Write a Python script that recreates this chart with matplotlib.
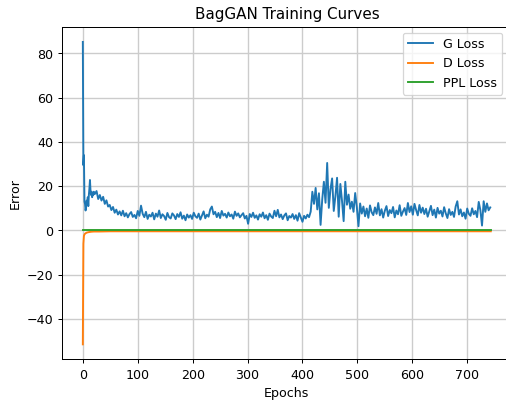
import numpy as np
import matplotlib
matplotlib.use("Agg")
import matplotlib.pyplot as plt

# G loss: per-epoch for epochs 0..20, then every 3 epochs from 22 to 742
g_epochs = np.concatenate([np.arange(0, 21), np.arange(22, 743, 3)])
g_loss = [
    85.2, 29.5, 34.0, 13.0, 12.0, 9.0, 10.5, 13.5, 12.0, 15.0,
    11.0, 16.0, 19.0, 22.8, 18.0, 16.0, 17.5, 15.0, 17.0, 16.0,
    17.5,
    16.5, 17.8, 14.2, 16.0, 13.5, 15.2, 12.0, 13.6, 10.8, 11.5,
    9.2, 10.6, 8.0, 9.4, 7.2, 8.6, 6.8, 8.9, 6.4, 7.8,
    5.9, 7.4, 8.3, 6.1, 7.0, 5.5, 8.8, 6.6, 11.2, 7.5,
    6.0, 8.4, 5.2, 7.1, 6.3, 8.0, 5.0, 7.6, 6.2, 9.0,
    5.6, 7.3, 6.5, 4.8, 7.9, 6.0, 5.4, 7.7, 6.8, 5.1,
    7.4, 6.1, 8.2, 5.3, 6.7, 4.6, 7.2, 5.8, 6.9, 5.2,
    8.0, 6.4, 5.7, 7.6, 4.9, 6.8, 8.6, 5.5, 7.1, 6.2,
    9.5, 10.8, 7.3, 8.4, 6.0, 7.9, 5.6, 8.8, 6.7, 7.5,
    5.8, 8.1, 6.4, 7.2, 5.3, 8.5, 6.6, 7.7, 5.9, 6.9,
    7.8, 5.4, 6.6, 3.0, 7.4, 6.1, 8.0, 5.7, 6.8, 4.9,
    7.3, 6.2, 8.1, 5.5, 6.9, 4.8, 7.6, 6.3, 5.6, 8.9,
    6.4, 9.3, 5.9, 7.2, 5.1, 6.8, 7.7, 4.6, 6.5, 5.8,
    7.4, 5.2, 6.9, 4.4, 7.8, 5.9, 3.9, 6.6, 5.4, 7.1,
    6.0, 8.5, 17.5, 12.0, 19.2, 9.5, 16.8, 2.5, 14.0, 22.0,
    12.5, 30.5, 10.2, 18.6, 23.5, 8.8, 15.5, 23.8, 6.2, 21.0,
    13.4, 4.2, 22.0, 11.6, 16.2, 9.8, 13.0, 8.4, 16.9, 10.5,
    1.9, 12.2, 7.6, 10.8, 6.4, 9.9, 5.7, 11.3, 8.2, 6.9,
    10.4, 7.5, 12.4, 6.8, 9.6, 5.8, 8.9, 11.0, 6.5, 9.2,
    7.8, 10.6, 5.9, 9.0, 7.3, 11.4, 6.6, 8.5, 10.1, 7.0,
    12.4, 8.3, 10.9, 7.1, 12.0, 9.2, 6.8, 11.5, 8.0, 10.3,
    7.4, 9.8, 6.2, 8.7, 11.1, 6.9, 9.4, 5.8, 10.2, 7.6,
    8.9, 6.3, 10.5, 7.7, 5.6, 9.6, 7.0, 8.4, 6.1, 10.8,
    13.2, 7.2, 9.5, 6.4, 8.1, 5.3, 9.9, 7.5, 6.6, 10.0,
    7.3, 8.8, 6.0, 12.9, 9.2, 2.2, 13.2, 8.4, 12.2, 9.1,
    10.4,
]

d_epochs = [0, 1, 2, 3, 4, 5, 7, 10, 15, 20, 30, 50, 100, 200, 300, 400, 500, 600, 700, 743]
d_loss = [-51.5, -6.0, -2.5, -1.8, -1.5, -1.3, -1.0, -0.8, -0.6, -0.5,
          -0.5, -0.4, -0.4, -0.4, -0.4, -0.4, -0.4, -0.4, -0.4, -0.4]

ppl_epochs = [0, 100, 200, 300, 400, 500, 600, 700, 743]
ppl_loss = [0.1, 0.1, 0.1, 0.1, 0.1, 0.1, 0.1, 0.1, 0.1]

W, H = 506, 401
DPI = 91
fig = plt.figure(figsize=((W + 0.2) / DPI, (H + 0.2) / DPI), dpi=DPI)
ax = fig.add_axes([62.4 / W, 41.5 / H, (511 - 62.4) / W, (359.5 - 27) / H])

ax.plot(g_epochs, g_loss, color="#1f77b4", label="G Loss")
ax.plot(d_epochs, d_loss, color="#ff7f0e", label="D Loss")
ax.plot(ppl_epochs, ppl_loss, color="#2ca02c", label="PPL Loss")

ax.set_title("BagGAN Training Curves")
ax.set_xlabel("Epochs")
ax.set_ylabel("Error")
ax.set_xlim(-37.15, 780.15)
ax.set_xticks([0, 100, 200, 300, 400, 500, 600, 700])
ax.set_yticks([-40, -20, 0, 20, 40, 60, 80])
ax.grid(True, color="#cccccc", linewidth=1.1)
ax.legend(loc="upper right", bbox_to_anchor=(502 / W, 1 - 33 / H),
          bbox_transform=fig.transFigure, borderaxespad=0)

fig.savefig("out.png", dpi=DPI)
